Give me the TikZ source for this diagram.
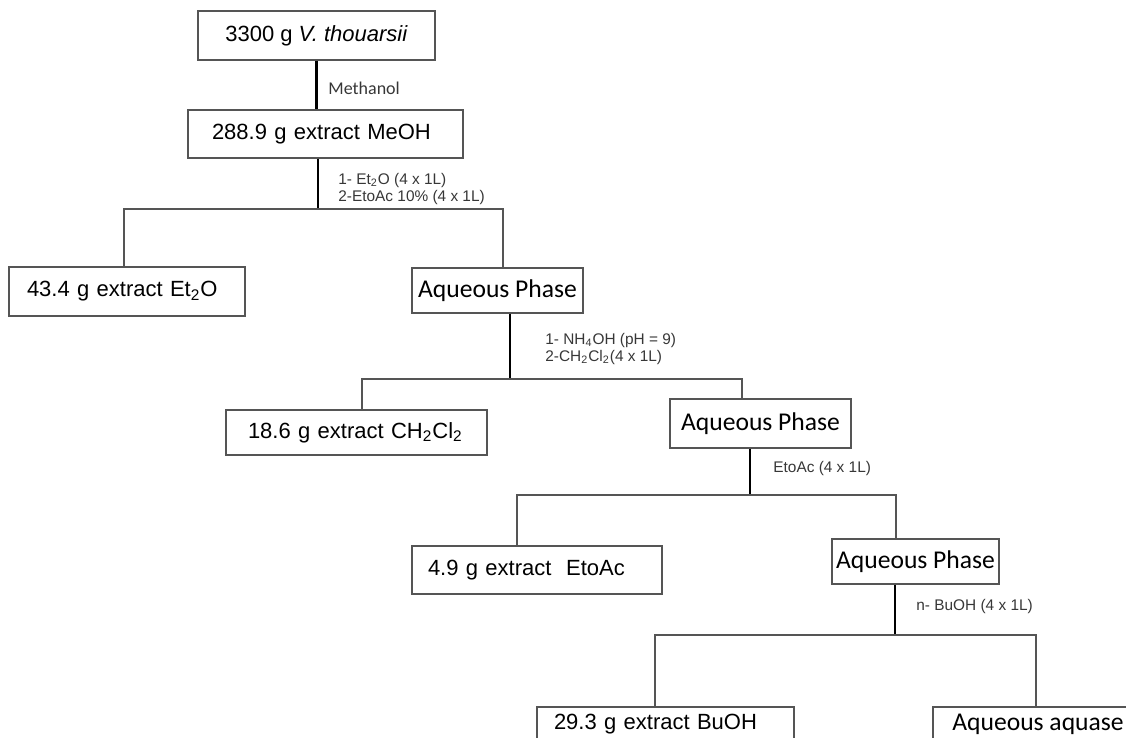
\documentclass[tikz,border=0pt]{standalone}
\usepackage{fontspec}
\setmainfont{Liberation Sans}
\newfontfamily\calibri{Carlito}
\usetikzlibrary{positioning}
\definecolor{boxgray}{RGB}{85,85,85}
\definecolor{labelgray}{RGB}{55,55,55}

\begin{document}
\begin{tikzpicture}[
  x=0.5pt, y=-0.5pt,
  extract/.style={rectangle, draw=boxgray, line width=0.6pt, inner sep=0pt,
                  font=\fontsize{11}{13}\selectfont},
  padded/.style={align=left, inner xsep=#1},
  aqueous/.style={extract, font=\calibri\fontsize{12.8}{15}\selectfont},
  solvent/.style={anchor=west, inner sep=0pt, align=left, text=labelgray,
                  font=\fontsize{7.7}{8.6}\selectfont},
  trunk/.style={line width=1.3pt, black},
  branch/.style={line width=0.6pt, boxgray}
]
  \useasboundingbox (0,0) rectangle (1126,738);
  \clip (0,0) rectangle (1126,738);

  \node[extract, minimum width=118.5pt, minimum height=24.5pt] (plant) at (316.5,35.5) {3300 g \textit{V. thouarsii}};
  \node[extract, padded=12pt, text width=113.5pt, minimum height=24pt] (meoh) at (325.5,134) {288.9 g extract MeOH};
  \node[extract, padded=9pt, text width=100pt, minimum height=24.5pt] (ether) at (127,291.5) {43.4 g extract Et\textsubscript{2}O};
  \node[aqueous, minimum width=85.5pt, minimum height=22.5pt] (aqa) at (497.5,290.5) {Aqueous Phase};
  \node[extract, padded=11pt, text width=108.5pt, minimum height=22.5pt] (dcm) at (356.5,432.5) {18.6 g extract CH\textsubscript{2}Cl\textsubscript{2}};
  \node[aqueous, minimum width=90.5pt, minimum height=24.5pt] (aqb) at (760.5,423.5) {Aqueous Phase};
  \node[extract, padded=8pt, text width=109pt, minimum height=24pt] (etoac) at (537,570) {4.9 g extract~ EtoAc};
  \node[aqueous, minimum width=83.5pt, minimum height=22.5pt] (aqc) at (915.5,561.5) {Aqueous Phase};
  \node[extract, padded=8.5pt, text width=111.5pt, minimum height=17pt] (buoh) at (665.5,724) {29.3 g extract BuOH};
  \node[aqueous, minimum width=105pt, minimum height=17pt] (aqd) at (1038,724) {Aqueous aquase};

  \node[solvent, font=\calibri\fontsize{9}{11}\selectfont] (methanol) at (328,88) {Methanol};
  \node[solvent] (partA) at (338,189) {1- Et\textsubscript{2}O (4 x 1L)\\2-EtoAc 10\% (4 x 1L)};
  \node[solvent] (partB) at (545,349) {1- NH\textsubscript{4}OH (pH = 9)\\2-CH\textsubscript{2}Cl\textsubscript{2}(4 x 1L)};
  \node[solvent] (partC) at (773,469) {EtoAc (4 x 1L)};
  \node[solvent] (partD) at (916,607) {n- BuOH (4 x 1L)};

  \coordinate (s1) at (318,209);
  \coordinate (l1) at (124,209);
  \coordinate (r1) at (503,209);
  \coordinate (s2) at (510,379);
  \coordinate (l2) at (362,379);
  \coordinate (r2) at (742,379);
  \coordinate (s3) at (750,495);
  \coordinate (l3) at (517,495);
  \coordinate (r3) at (896,495);
  \coordinate (s4) at (895,635);
  \coordinate (l4) at (655,635);
  \coordinate (r4) at (1036,635);

  \draw[trunk] (plant.south) -- (plant.south |- meoh.north);
  \draw[trunk] (s1 |- meoh.south) -- (s1);
  \draw[branch] (l1 |- ether.north) -- (l1) -- (r1) -- (r1 |- aqa.north);
  \draw[trunk] (s2 |- aqa.south) -- (s2);
  \draw[branch] (l2 |- dcm.north) -- (l2) -- (r2) -- (r2 |- aqb.north);
  \draw[trunk] (s3 |- aqb.south) -- (s3);
  \draw[branch] (l3 |- etoac.north) -- (l3) -- (r3) -- (r3 |- aqc.north);
  \draw[trunk] (s4 |- aqc.south) -- (s4);
  \draw[branch] (l4 |- buoh.north) -- (l4) -- (r4) -- (r4 |- aqd.north);
\end{tikzpicture}
\end{document}
